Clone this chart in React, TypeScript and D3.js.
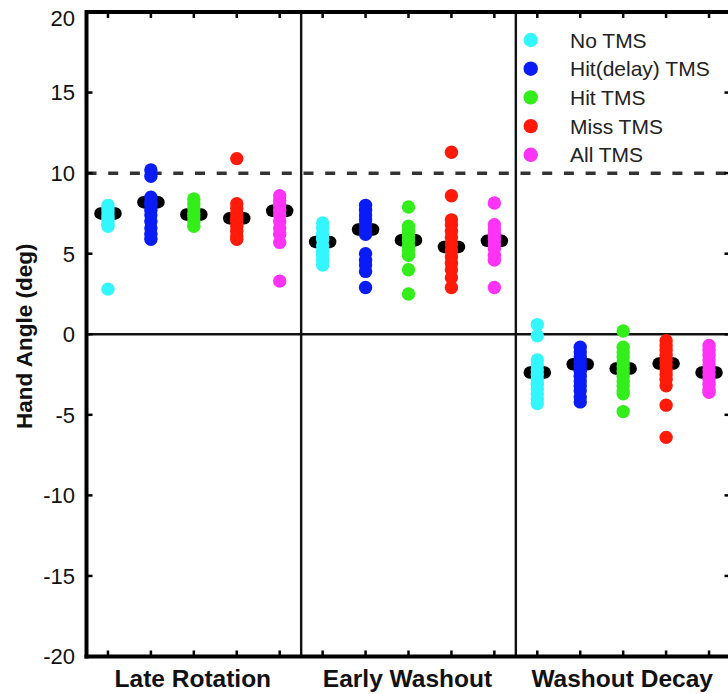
import React from "react";
import * as d3 from "d3";

const categories = ["Late Rotation", "Early Washout", "Washout Decay"];
const seriesNames = ["No TMS", "Hit(delay) TMS", "Hit TMS", "Miss TMS", "All TMS"];
const seriesColors = ["#33f6ff", "#0a1cf6", "#33ee1a", "#ff1a0a", "#ff33f5"];

// values per category: [Late Rotation, Early Washout, Washout Decay]
const noTMS = [
  [8.0, 7.8, 7.6, 7.4, 7.2, 7.0, 6.8, 6.7, 2.8],
  [6.9, 6.6, 6.2, 5.9, 5.5, 5.2, 4.9, 4.6, 4.3],
  [0.6, -0.1, -1.6, -1.9, -2.2, -2.5, -2.8, -3.1, -3.4, -3.7, -4.0, -4.3],
];
const hitDelayTMS = [
  [10.2, 9.8, 8.5, 8.2, 8.0, 7.7, 7.4, 7.0, 6.6, 6.2, 5.9],
  [8.0, 7.7, 7.4, 7.1, 6.8, 6.5, 6.2, 5.0, 4.6, 4.3, 3.9, 2.9],
  [-0.8, -1.1, -1.4, -1.7, -2.0, -2.3, -2.6, -2.9, -3.2, -3.5, -3.9, -4.2],
];
const hitTMS = [
  [8.4, 8.1, 7.8, 7.5, 7.3, 7.0, 6.7],
  [7.9, 6.7, 6.4, 6.1, 5.8, 5.5, 5.2, 4.9, 4.0, 2.5],
  [0.2, -0.8, -1.1, -1.4, -1.7, -2.0, -2.3, -2.6, -2.9, -3.2, -3.5, -3.7, -4.8],
];
const missTMS = [
  [10.9, 8.1, 7.8, 7.5, 7.2, 7.0, 6.7, 6.4, 6.1, 5.9],
  [11.3, 8.6, 7.1, 6.8, 6.4, 6.0, 5.6, 5.2, 4.8, 4.4, 4.0, 3.5, 2.9],
  [-0.4, -0.7, -1.0, -1.3, -1.6, -1.9, -2.2, -2.5, -2.8, -3.2, -4.4, -6.4],
];
const allTMS = [
  [8.6, 8.3, 8.0, 7.7, 7.4, 7.0, 6.6, 6.2, 5.7, 3.3],
  [8.15, 6.8, 6.5, 6.2, 5.9, 5.6, 5.3, 4.9, 4.6, 2.9],
  [-0.7, -1.0, -1.3, -1.6, -1.9, -2.2, -2.5, -2.8, -3.1, -3.4, -3.6],
];
const seriesValues = [noTMS, hitDelayTMS, hitTMS, missTMS, allTMS];

// group means per series: [LR, EW, WD]
const noTMSMean = [7.5, 5.73, -2.38];
const hitDelayMean = [8.2, 6.5, -1.86];
const hitMean = [7.43, 5.84, -2.13];
const missMean = [7.2, 5.42, -1.82];
const allMean = [7.66, 5.8, -2.38];
const seriesMeans = [noTMSMean, hitDelayMean, hitMean, missMean, allMean];

const yTicks = [20, 15, 10, 5, 0, -5, -10, -15, -20];
const referenceLine = 10;

const W = 728;
const H = 694;

export default function App() {
  const x = d3.scaleLinear().domain([0.5, 15.5]).range([86.5, 730.5]);
  const y = d3.scaleLinear().domain([-20, 20]).range([656.5, 12]);
  const nS = seriesNames.length;
  const positions = d3.range(1, categories.length * nS + 1);
  const dividers = d3.range(1, categories.length).map((i) => i * nS + 0.5);
  const font = "Liberation Sans, Arial, Helvetica, sans-serif";
  const r = 6.7;

  return (
    <div style={{ position: "absolute", left: 0, top: 0 }}>
      <svg width={W} height={H} style={{ display: "block", background: "#fff" }}>
        {/* zero line */}
        <line x1={x(0.5)} x2={x(15.5)} y1={y(0)} y2={y(0)} stroke="#111" strokeWidth={2.4} />
        {/* dividers */}
        {dividers.map((d) => (
          <line key={d} x1={x(d)} x2={x(d)} y1={y(20)} y2={y(-20)} stroke="#111" strokeWidth={2.4} />
        ))}
        {/* dashed reference */}
        <line
          x1={x(0.5)}
          x2={x(15.5)}
          y1={y(referenceLine)}
          y2={y(referenceLine)}
          stroke="#333"
          strokeWidth={3.5}
          strokeDasharray="10 11.7"
        />
        {/* means (behind) */}
        {seriesMeans.map((means, s) =>
          means.map((m, c) => {
            const px = x(c * nS + s + 1);
            return (
              <line
                key={`m${s}-${c}`}
                x1={px - 7.5}
                x2={px + 7.5}
                y1={y(m)}
                y2={y(m)}
                stroke="#000"
                strokeWidth={12.5}
                strokeLinecap="round"
              />
            );
          })
        )}
        {/* dots */}
        {seriesValues.map((groups, s) =>
          groups.map((vals, c) =>
            vals.map((v, i) => (
              <circle
                key={`d${s}-${c}-${i}`}
                cx={x(c * nS + s + 1)}
                cy={y(v)}
                r={r}
                fill={seriesColors[s]}
              />
            ))
          )
        )}
        {/* ticks */}
        {positions.map((p) => (
          <g key={`t${p}`}>
            <line x1={x(p)} x2={x(p)} y1={y(-20)} y2={y(-20) - 6} stroke="#000" strokeWidth={2.5} />
            <line x1={x(p)} x2={x(p)} y1={y(20)} y2={y(20) + 6} stroke="#000" strokeWidth={2.5} />
          </g>
        ))}
        {yTicks.map((t) => (
          <g key={`y${t}`}>
            <line x1={x(0.5)} x2={x(0.5) + 6} y1={y(t)} y2={y(t)} stroke="#000" strokeWidth={2.5} />
            <line x1={x(15.5)} x2={x(15.5) - 6} y1={y(t)} y2={y(t)} stroke="#000" strokeWidth={2.5} />
            <text
              x={75}
              y={Math.max(y(t), 18)}
              dy="0.36em"
              textAnchor="end"
              fontFamily={font}
              fontSize={22}
              fill="#111"
            >
              {t}
            </text>
          </g>
        ))}
        {/* frame */}
        <line x1={x(0.5)} x2={x(15.5) + 2} y1={y(20)} y2={y(20)} stroke="#000" strokeWidth={4} />
        <line x1={x(0.5) - 2} x2={x(15.5) + 2} y1={y(-20)} y2={y(-20)} stroke="#000" strokeWidth={4} />
        <line x1={x(0.5)} x2={x(0.5)} y1={y(20) - 2} y2={y(-20) + 2} stroke="#000" strokeWidth={4} />
        <line x1={x(15.5)} x2={x(15.5)} y1={y(20) - 2} y2={y(-20) + 2} stroke="#000" strokeWidth={4} />
        {/* category labels */}
        {categories.map((c, i) => (
          <text
            key={c}
            x={(x(i * nS + 0.5) + x((i + 1) * nS + 0.5)) / 2 - 1}
            y={687}
            textAnchor="middle"
            fontFamily={font}
            fontWeight="bold"
            fontSize={24.5}
            fill="#111"
          >
            {c}
          </text>
        ))}
        {/* y label */}
        <text
          transform={`translate(24,${y(0) + 2}) rotate(-90)`}
          dy="0.36em"
          textAnchor="middle"
          fontFamily={font}
          fontWeight="bold"
          fontSize={22.5}
          fill="#111"
        >
          Hand Angle (deg)
        </text>
        {/* legend */}
        {seriesNames.map((n, i) => (
          <g key={n} transform={`translate(0,${40 + i * 28.7})`}>
            <circle cx={530.7} cy={0} r={7.2} fill={seriesColors[i]} />
            <text x={570} y={0} dy="0.36em" fontFamily={font} fontSize={21} fill="#222">
              {n}
            </text>
          </g>
        ))}
      </svg>
    </div>
  );
}
